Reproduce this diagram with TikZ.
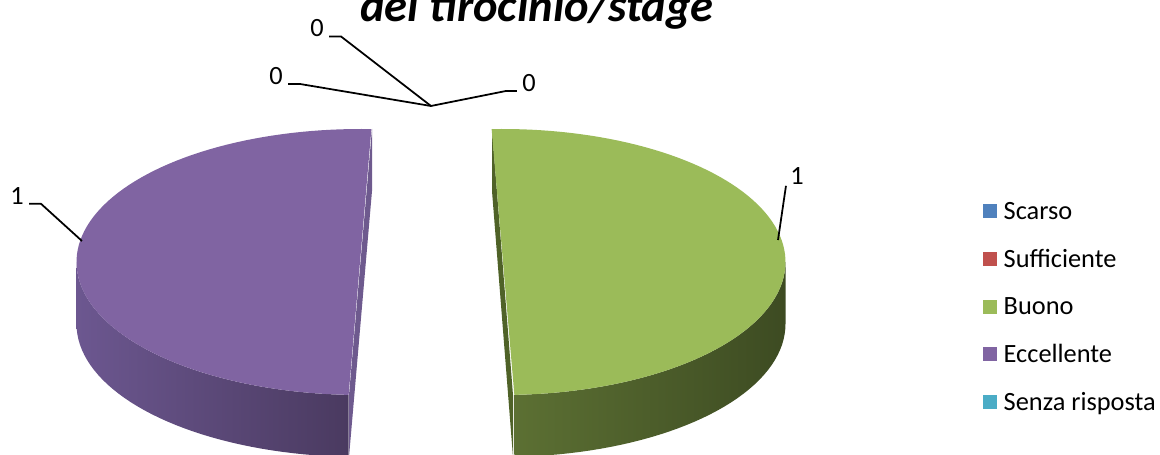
\documentclass[tikz,border=0pt]{standalone}
\usepackage{fontspec}
\setmainfont{Carlito}
\usetikzlibrary{calc}
\definecolor{scarso}{HTML}{4F81BD}
\definecolor{sufficiente}{HTML}{C0504D}
\definecolor{buono}{HTML}{9BBB59}
\definecolor{eccellente}{HTML}{8064A2}
\definecolor{senza}{HTML}{4BACC6}
\definecolor{purpleside}{HTML}{6E5A8E}
\definecolor{purplewallA}{HTML}{6C5790}
\definecolor{purplewallB}{HTML}{4A3A60}
\definecolor{greenside}{HTML}{4F6228}
\definecolor{greenwallA}{HTML}{5C7033}
\definecolor{greenwallB}{HTML}{3D4B22}
\tikzset{leader/.style={line width=1pt}, lab/.style={inner sep=0pt}, legbox/.style={inner sep=0pt, minimum size=0.28cm}}
\begin{document}
\begin{tikzpicture}[x=0.02cm,y=-0.02cm,font=\fontsize{15}{18}\selectfont]
        \useasboundingbox (0,0) rectangle (1160,455);
        %purple half
        \fill[purpleside] (372,129) -- (372,191) -- (349,457) -- (349,395) -- cycle;
        \shade[left color=purplewallA, right color=purplewallB] plot[domain=180:267.6, samples=40] ({360.5+284*cos(\x)},{262-133*sin(\x)}) -- plot[domain=267.6:180, samples=40] ({360.5+284*cos(\x)},{324-133*sin(\x)}) -- cycle;
        \fill[eccellente] plot[domain=87.8:267.6, samples=90] ({360.5+284*cos(\x)},{262-133*sin(\x)}) -- cycle;
        %green half
        \fill[greenside] (492,129) -- (492,191) -- (513,457) -- (513,395) -- cycle;
        \shade[left color=greenwallA, middle color=greenwallB, right color=greenwallB] plot[domain=-87.6:0, samples=40] ({502.5+283*cos(\x)},{262-133*sin(\x)}) -- plot[domain=0:-87.6, samples=40] ({502.5+283*cos(\x)},{324-133*sin(\x)}) -- cycle;
        \fill[buono] plot[domain=-87.6:92.2, samples=90] ({502.5+283*cos(\x)},{262-133*sin(\x)}) -- cycle;
        %title
        \node[font=\fontsize{26.5}{30}\selectfont\bfseries\itshape, anchor=base] (title) at (537,22) {del tirocinio/stage};
        %values
        \node[lab] (v0a) at (317,28.5) {0};
        \node[lab] (v0b) at (276,76) {0};
        \node[lab] (v0c) at (529,83) {0};
        \node[lab] (v1a) at (17,196) {1};
        \node[lab] (v1b) at (797,176) {1};
        \coordinate (hub) at (431,106);
        \coordinate (edgeL) at (82,241);
        \coordinate (edgeR) at (778,240);
        \draw[leader] ([shift={(5,-1)}]v0a.south east) -- ++(12,0) -- (hub);
        \draw[leader] ([shift={(5,-1)}]v0b.south east) -- ++(12,0) -- (hub);
        \draw[leader] ([shift={(-5,-1)}]v0c.south west) -- ++(-11,0) -- (hub);
        \draw[leader] ([shift={(5,-1)}]v1a.south east) -- ++(12,0) -- (edgeL);
        \draw[leader] ([shift={(-4,1)}]v1b.south west) -- (edgeR);
        %legend
        \foreach \name/\col [count=\i from 0] in {Scarso/scarso, Sufficiente/sufficiente, Buono/buono, Eccellente/eccellente, Senza risposta/senza} {
        \node[legbox, fill=\col] (box\i) at (989.5,{211+47.8*\i}) {};
        \node[anchor=base west, inner sep=0pt] (leg\i) at ($(box\i.south east)+(6.5,1)$) {\name};}
    \end{tikzpicture}
\end{document}
